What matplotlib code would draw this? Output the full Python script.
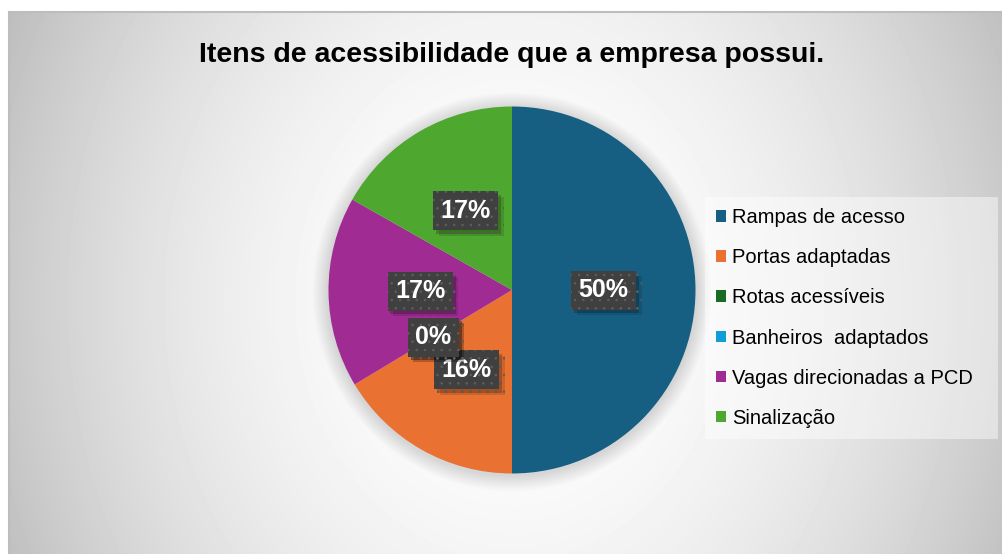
import numpy as np
import matplotlib.pyplot as plt
from matplotlib import patheffects
from matplotlib.patches import Circle

W, H = 1002, 554

categories = ['Rampas de acesso', 'Portas adaptadas', 'Rotas acessíveis',
              'Banheiros  adaptados', 'Vagas direcionadas a PCD', 'Sinalização']
shares = [50, 16.4, 0, 0, 16.8, 16.8]
colors = ['#175F82', '#E97132', '#196B24', '#0F9ED5', '#A02B93', '#4EA72E']
title = 'Itens de acessibilidade que a empresa possui.'

plt.rcParams['font.family'] = ['Liberation Sans', 'DejaVu Sans']
plt.rcParams['hatch.linewidth'] = 0.6


def px(x, y, w, h):
    '''pixel box (from top-left) to figure fraction'''
    return [x / W, 1 - (y + h) / H, w / W, h / H]


fig = plt.figure(figsize=(W / 100, H / 100), dpi=100)

# chart area with a radial grey gradient
bg = fig.add_axes(px(9, 12, W - 9, H - 12))
yy, xx = np.mgrid[12:H, 9:W]
d = np.hypot((xx - 512) / 500, (yy - 300) / 600)
g = 1 - 0.21 * d ** 1.9
bg.imshow(g, cmap='gray', vmin=0, vmax=1, aspect='auto', interpolation='bilinear')
bg.set_xticks([])
bg.set_yticks([])
for side in ['right', 'bottom']:
    bg.spines[side].set_visible(False)
for side in ['top', 'left']:
    bg.spines[side].set_color('#bdbdbd')
    bg.spines[side].set_linewidth(1.5)

fig.text(512 / W, 1 - 55 / H, title, ha='center', va='center',
         fontsize=20.5, fontweight='bold', color='black')

# pie
R = 183.5
ax = fig.add_axes(px(512 - R, 290 - R, 2 * R, 2 * R))
wedges, texts, autotexts = ax.pie(
    shares, colors=colors, startangle=90, counterclock=False,
    autopct='%.0f%%', pctdistance=0.5,
    wedgeprops=dict(linewidth=0),
    textprops=dict(color='white', fontsize=18, fontweight='bold'))
ax.set_xlim(-1, 1)
ax.set_ylim(-1, 1)
ax.set_aspect('equal')
ax.axis('off')

# soft glow around the pie
n = 12
for i in range(n):
    ax.add_patch(Circle((0, -0.01), 1 + 0.085 * (1 - i / n), facecolor='black',
                        edgecolor='none', alpha=0.012, zorder=0, clip_on=False))

for t in autotexts:
    t.set_bbox(dict(boxstyle='square,pad=0.3', facecolor='#404040',
                    edgecolor='#5e5e5e', linewidth=0, hatch='..'))
    t.get_bbox_patch().set_path_effects([
        patheffects.SimplePatchShadow(offset=(4, -4), shadow_rgbFace='black', alpha=0.12),
        patheffects.SimplePatchShadow(offset=(2, -2.5), shadow_rgbFace='black', alpha=0.2),
        patheffects.Normal()])

leg = fig.legend(wedges, categories, loc='upper left',
                 bbox_to_anchor=(705 / W, 1 - 437 / H, 293 / W, 240 / H),
                 mode='expand', fontsize=14.5,
                 handlelength=0.5, handleheight=0.5, handletextpad=0.3,
                 labelspacing=1.05, borderpad=0.55, borderaxespad=0,
                 fancybox=False, frameon=True)
frame = leg.get_frame()
frame.set_facecolor('white')
frame.set_alpha(0.45)
frame.set_edgecolor('none')

fig.savefig('out.png', dpi=100)
